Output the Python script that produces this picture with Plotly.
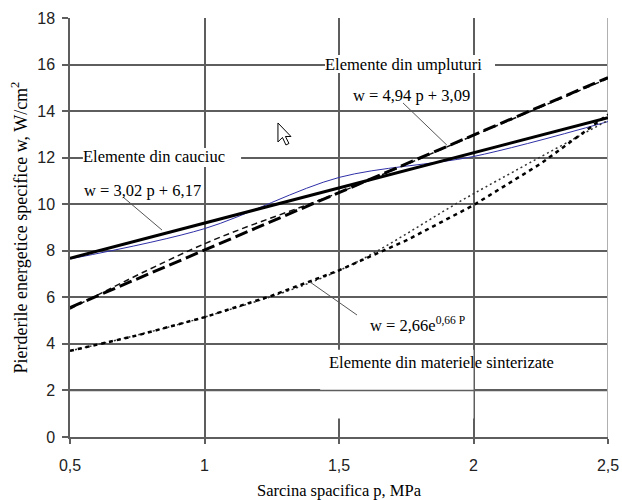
import plotly.graph_objects as go
import math

# ---- data ----
p_data = [0.5, 1.0, 1.5, 2.0, 2.5]
w_cauciuc = [7.65, 8.95, 11.15, 12.05, 13.55]       # measured, rubber
w_umpluturi = [5.5, 8.3, 10.5, 12.95, 15.4]        # measured, fillers
w_sinterizate = [3.7, 5.15, 7.15, 10.45, 13.6]     # measured, sintered
p_fit = [0.5, 0.75, 1.0, 1.25, 1.5, 1.75, 2.0, 2.25, 2.5]
lin_c = (3.02, 6.17)
lin_u = (4.94, 3.09)
exp_s = (2.66, 0.66)
x_ticks = [0.5, 1, 1.5, 2, 2.5]
x_ticklabels = ["0,5", "1", "1,5", "2", "2,5"]
y_ticks = [0, 2, 4, 6, 8, 10, 12, 14, 16, 18]

fit_c = [lin_c[0] * p + lin_c[1] for p in p_fit]
fit_u = [lin_u[0] * p + lin_u[1] for p in p_fit]
fit_s = [exp_s[0] * math.exp(exp_s[1] * p) for p in p_fit]

SERIF = "Liberation Serif, Times New Roman, serif"
SANS = "Liberation Sans, Arial, sans-serif"
GRID = "#5e5e5e"

fig = go.Figure()
fig.add_trace(go.Scatter(x=p_data, y=w_cauciuc, mode="lines", line=dict(color="#2f2fa8", width=1, shape="spline", smoothing=0.9)))
fig.add_trace(go.Scatter(x=p_data, y=w_umpluturi, mode="lines", line=dict(color="#111", width=1.5, dash="6px,4px", shape="spline")))
fig.add_trace(go.Scatter(x=p_data, y=w_sinterizate, mode="lines", line=dict(color="#333", width=1.5, dash="2px,3px", shape="spline")))
fig.add_trace(go.Scatter(x=p_fit, y=fit_c, mode="lines", line=dict(color="black", width=3)))
fig.add_trace(go.Scatter(x=p_fit, y=fit_u, mode="lines", line=dict(color="black", width=3, dash="13px,5px")))
fig.add_trace(go.Scatter(x=p_fit, y=fit_s, mode="lines", line=dict(color="black", width=2.5, dash="4px,4px")))

shapes = []
# white boxes breaking gridlines behind labels
for (x0, x1, y0, y1) in [(0.548, 1.136, 11.6, 12.42), (1.448, 2.08, 15.64, 16.41), (1.43, 2.0, 0.8, 3.75)]:
    shapes.append(dict(type="rect", layer="between", x0=x0, x1=x1, y0=y0, y1=y1,
                       fillcolor="white", line=dict(width=0)))
# horizontal grid at 2 passes over the sinterizate box
shapes.append(dict(type="line", layer="between", x0=0.5, x1=2.5, y0=2, y1=2, line=dict(color=GRID, width=1.5)))
# light right border
shapes.append(dict(type="line", layer="between", x0=2.5, x1=2.5, y0=0, y1=18, line=dict(color="#b0b0b0", width=2)))
# leader lines
for (x0, y0, x1, y1) in [(0.697, 10.31, 0.842, 8.89), (1.738, 14.35, 1.901, 12.54), (1.392, 6.66, 1.567, 5.24)]:
    shapes.append(dict(type="line", layer="above", x0=x0, y0=y0, x1=x1, y1=y1, line=dict(color="#555", width=1)))
# mouse cursor
shapes.append(dict(type="path", layer="above", xsizemode="pixel", ysizemode="pixel", xanchor=1.273, yanchor=13.49,
                   path="M0,0 L0,-19 L4.5,-14.5 L8,-22 L11,-20.5 L7.5,-13.5 L13,-13.5 Z",
                   fillcolor="white", line=dict(color="black", width=1)))

ann = [
    dict(x=0.812, y=12.03, text="Elemente din cauciuc"),
    dict(x=0.77, y=10.61, text="w = 3,02 p + 6,17"),
    dict(x=1.74, y=16.02, text="Elemente din umpluturi"),
    dict(x=1.768, y=14.69, text="w = 4,94 p + 3,09"),
    dict(x=1.79, y=4.85, text="w = 2,66e<sup>0,66 P</sup>"),
    dict(x=1.881, y=3.22, text="Elemente din materiele sinterizate"),
]
annotations = [dict(a, xref="x", yref="y", showarrow=False, font=dict(family=SERIF, size=16.5, color="black")) for a in ann]

fig.update_layout(
    width=622, height=500,
    margin=dict(l=70, r=14, t=18, b=63),
    paper_bgcolor="white", plot_bgcolor="white",
    showlegend=False,
    shapes=shapes,
    annotations=annotations,
    xaxis=dict(range=[0.5, 2.5], tickvals=x_ticks, ticktext=x_ticklabels, automargin=False,
               showgrid=True, gridcolor=GRID, gridwidth=1.5,
               showline=True, linecolor=GRID, linewidth=1.5,
               ticks="outside", ticklen=5, tickcolor=GRID, tickwidth=1.5,
               ticklabelstandoff=8, zeroline=False,
               tickfont=dict(family=SANS, size=16, color="#222"),
               title=dict(text="Sarcina spacifica p, MPa", font=dict(family=SERIF, size=16.5, color="black"), standoff=12)),
    yaxis=dict(range=[0, 18], tickvals=y_ticks, automargin=False,
               showgrid=True, gridcolor=GRID, gridwidth=1.5,
               showline=True, linecolor=GRID, linewidth=1.5,
               ticks="outside", ticklen=6, tickcolor=GRID, tickwidth=1.5,
               ticklabelstandoff=4, zeroline=False,
               tickfont=dict(family=SANS, size=16, color="#222"),
               title=dict(text="Pierderile energetice specifice w, W/cm<sup>2</sup>", font=dict(family=SERIF, size=18, color="black"), standoff=5)),
)

fig.write_html("out.html", config={"displayModeBar": False},
               post_script="document.body.style.margin='0';document.body.style.overflow='hidden';")
